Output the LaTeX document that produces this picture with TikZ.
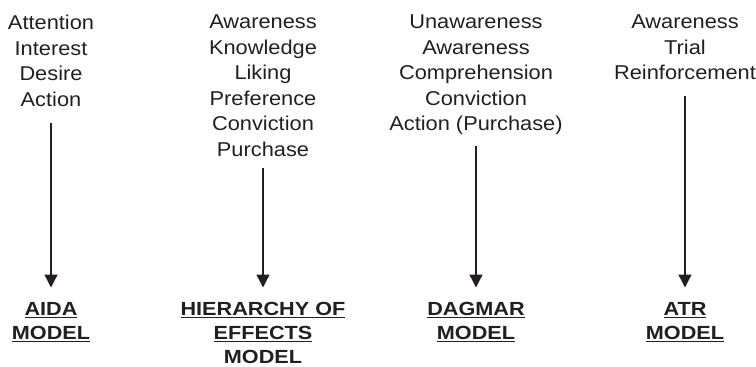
\documentclass[tikz,border=0pt]{standalone}
\usepackage{fontspec}
\setmainfont{Liberation Sans}[FakeStretch=1.09, BoldFeatures={FakeStretch=1.14}]
\usetikzlibrary{arrows.meta}
\definecolor{ink}{HTML}{231F20}
\newcommand{\ulword}[1]{\underline{#1}}

\begin{document}
\begin{tikzpicture}[x=1pt, y=-1pt, color=ink,
  stage/.style={align=center, inner sep=0pt, anchor=north,
    font=\fontsize{20}{25.5}\selectfont},
  model/.style={align=center, inner sep=0pt, anchor=north,
    font=\fontsize{19}{24}\selectfont\bfseries},
  flow/.style={line width=1.4pt, -{Triangle[length=13pt,width=13pt]},
    shorten <=16pt, shorten >=15pt}]
  \useasboundingbox (0,0) rectangle (756,367);
  % stages
  \node[stage] (aida) at (51,15) {Attention\\Interest\\Desire\\Action};
  \node[stage] (hoe) at (263,15) {Awareness\\Knowledge\\Liking\\Preference\\Conviction\\Purchase};
  \node[stage] (dagmar) at (476,15) {Unawareness\\Awareness\\Comprehension\\Conviction\\Action (Purchase)};
  \node[stage] (atr) at (685,15) {Awareness\\Trial\\Reinforcement};
  % models
  \node[model] (aidam) at (51,302.5) {\ulword{AIDA}\\\ulword{MODEL}};
  \node[model] (hoem) at (263,302.5) {\ulword{HIERARCHY OF}\\\ulword{EFFECTS}\\MODEL};
  \node[model] (dagmarm) at (476,302.5) {\ulword{DAGMAR}\\\ulword{MODEL}};
  \node[model] (atrm) at (685,302.5) {\ulword{ATR}\\\ulword{MODEL}};
  % arrows
  \draw[flow] (aida) -- (aidam);
  \draw[flow, shorten <=11pt] (hoe) -- (hoem);
  \draw[flow, shorten <=11pt] (dagmar) -- (dagmarm);
  \draw[flow] (atr) -- (atrm);
\end{tikzpicture}
\end{document}
